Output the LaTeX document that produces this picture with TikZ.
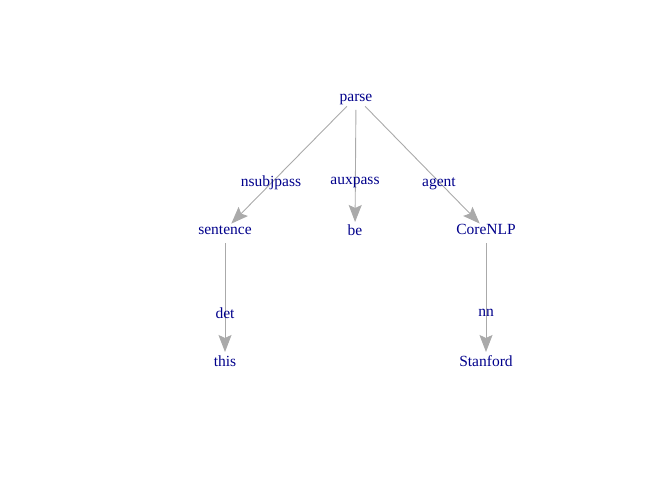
\documentclass[tikz,border=0pt]{standalone}
\usepackage{fontspec}
\setmainfont{Liberation Serif}
\usetikzlibrary{arrows.meta}
\definecolor{lblue}{HTML}{00008B}
\definecolor{egray}{HTML}{AAAAAA}
\begin{document}
\begin{tikzpicture}[x=1bp,y=-1bp,
  vtx/.style={anchor=base,inner sep=0pt,text=lblue,font=\fontsize{15.5bp}{18bp}\selectfont},
  elab/.style={anchor=base,inner sep=0pt,text=lblue,font=\fontsize{15.5bp}{18bp}\selectfont},
  edge/.style={draw=egray,line width=0.9bp,-{Stealth[length=17bp,width=13bp,inset=3bp]},shorten <=13bp,shorten >=9bp}]
\useasboundingbox (0,0) rectangle (672,480);
\coordinate (parse) at (356,97);
\coordinate (sentence) at (225,230);
\coordinate (be) at (355,231);
\coordinate (corenlp) at (486,230);
\coordinate (this) at (225,361);
\coordinate (stanford) at (486,361);
\draw[edge] (parse) -- (sentence);
\draw[edge] (parse) -- (be);
\draw[edge] (parse) -- (corenlp);
\draw[edge] (sentence) -- (this);
\draw[edge] (corenlp) -- (stanford);
\node[vtx] (tparse) at ([yshift=-5bp]parse) {parse};
\node[vtx] (tsentence) at ([yshift=-5bp]sentence) {sentence};
\node[vtx] (tbe) at ([yshift=-5bp]be) {be};
\node[vtx] (tcorenlp) at ([yshift=-5bp]corenlp) {CoreNLP};
\node[vtx] (tthis) at ([yshift=-5bp]this) {this};
\node[vtx] (tstanford) at ([yshift=-5bp]stanford) {Stanford};
\node[elab] (l1) at (271,187) {nsubjpass};
\node[elab] (l2) at (355,185) {auxpass};
\node[elab] (l3) at (439,187) {agent};
\node[elab] (l4) at (225,318) {det};
\node[elab] (l5) at (486,316) {nn};
\end{tikzpicture}
\end{document}
